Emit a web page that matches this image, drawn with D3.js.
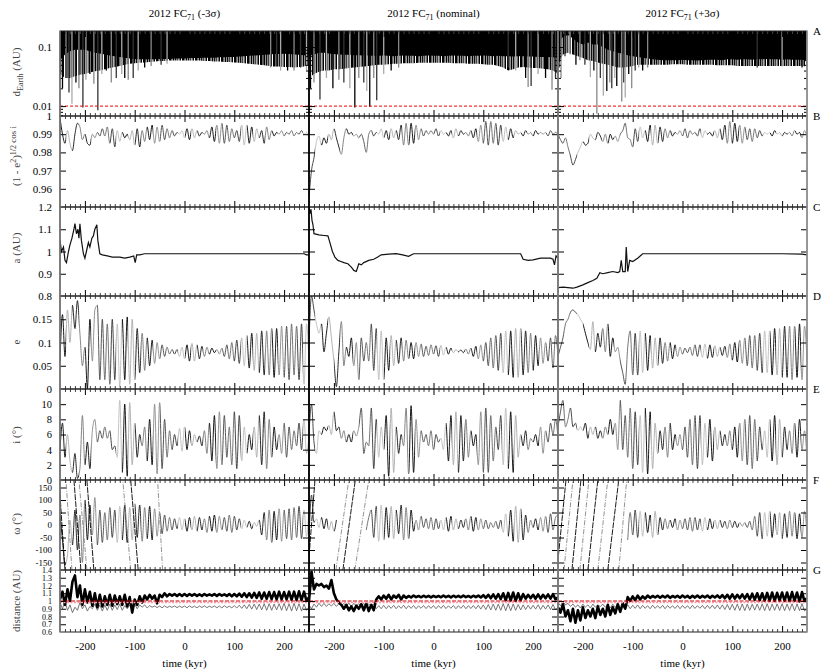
<!DOCTYPE html>
<html><head><meta charset="utf-8">
<script src="https://cdn.jsdelivr.net/npm/d3@7/dist/d3.min.js"></script>
<style>body{margin:0;background:#fff}svg{display:block}text{font-family:"Liberation Serif","DejaVu Serif",serif}</style>
</head><body><svg id="c" width="830" height="672"></svg>
<script>
// ================= DATA =================
const colTitles=['(-3σ)','(nominal)','(+3σ)'];
const rowLetters=['A','B','C','D','E','F','G'];
const xTickLabels=[-200,-100,0,100,200];
const yLabelsA=[0.1,0.01];
const yLabelsB=[1,0.99,0.98,0.97,0.96];
const yLabelsC=[1.2,1.1,1,0.9,0.8];
const yLabelsD=[0.15,0.1,0.05,0];
const yLabelsE=[10,8,6,4,2,0];
const yLabelsF=[150,100,50,0,-50,-100,-150];
const yLabelsG=[1.4,1.3,1.2,1.1,1,0.9,0.8,0.7,0.6];

// Row A : minimum distance to Earth (AU), every 10 kyr from -250 : dense-body edge, fringe edge, deep close-approach spikes
const dEarthBodyMinus=[0.06,0.075,0.085,0.09,0.09,0.09,0.085,0.08,0.078,0.075,0.072,0.07,0.068,0.066,0.064,0.063,0.062,0.062,0.062,0.062,0.063,0.063,0.063,0.064,0.064,0.064,0.065,0.065,0.065,0.066,0.066,0.066,0.067,0.067,0.068,0.068,0.069,0.07,0.071,0.072,0.073,0.074,0.075,0.076,0.076,0.077,0.076,0.075,0.074,0.073,0.07];
const dEarthFringeMinus=[0.035,0.03,0.03,0.032,0.034,0.035,0.037,0.039,0.04,0.042,0.044,0.046,0.048,0.05,0.052,0.053,0.054,0.055,0.056,0.057,0.058,0.058,0.059,0.059,0.059,0.059,0.059,0.059,0.059,0.058,0.058,0.057,0.057,0.056,0.056,0.055,0.054,0.053,0.052,0.051,0.05,0.049,0.048,0.047,0.047,0.046,0.046,0.045,0.046,0.047,0.05];
const dEarthSpikesMinus=[[-245,0.02],[-238,0.03],[-232,0.017],[-226,0.011],[-218,0.025],[-212,0.02],[-204,0.0095],[-198,0.028],[-190,0.035],[-182,0.024],[-174,0.0085],[-166,0.035],[-157,0.04],[-147,0.025],[-137,0.03],[-126,0.035],[-120,0.03],[-113,0.028],[-103,0.03],[-93,0.04],[-80,0.045],[-67,0.048],[-47,0.05],[-35,0.052],[160,0.05],[173,0.045],[185,0.047],[193,0.04],[207,0.04],[220,0.04],[233,0.045],[245,0.04]];
const dEarthBodyNominal=[0.07,0.075,0.08,0.08,0.078,0.076,0.075,0.074,0.074,0.073,0.073,0.072,0.072,0.071,0.071,0.072,0.071,0.07,0.071,0.072,0.071,0.071,0.07,0.071,0.072,0.071,0.071,0.07,0.071,0.072,0.071,0.071,0.07,0.071,0.071,0.072,0.071,0.07,0.071,0.07,0.07,0.069,0.07,0.07,0.069,0.069,0.068,0.068,0.068,0.067,0.065];
const dEarthFringeNominal=[0.03,0.035,0.038,0.04,0.04,0.042,0.042,0.043,0.044,0.045,0.046,0.047,0.048,0.049,0.05,0.05,0.051,0.052,0.052,0.053,0.053,0.053,0.054,0.054,0.054,0.054,0.054,0.054,0.054,0.053,0.053,0.053,0.052,0.052,0.052,0.051,0.05,0.05,0.048,0.045,0.04,0.042,0.045,0.046,0.045,0.044,0.044,0.043,0.042,0.04,0.035];
const dEarthSpikesNominal=[[-247,0.02],[-240,0.025],[-228,0.013],[-215,0.03],[-202,0.02],[-190,0.028],[-180,0.025],[-168,0.02],[-158,0.0095],[-150,0.03],[-140,0.025],[-134,0.018],[-128,0.0098],[-120,0.03],[-114,0.0126],[-100,0.035],[-85,0.04],[-70,0.045],[150,0.045],[165,0.04],[185,0.03],[190,0.021],[196,0.022],[210,0.035],[225,0.03],[238,0.019],[245,0.03]];
const dEarthBodyPlus=[0.11,0.15,0.16,0.14,0.12,0.11,0.12,0.11,0.11,0.1,0.09,0.085,0.08,0.077,0.073,0.07,0.068,0.066,0.064,0.062,0.061,0.06,0.06,0.06,0.06,0.061,0.06,0.06,0.059,0.06,0.061,0.061,0.061,0.06,0.062,0.062,0.061,0.062,0.062,0.061,0.062,0.062,0.063,0.062,0.062,0.061,0.062,0.061,0.061,0.061,0.06];
const dEarthFringePlus=[0.05,0.075,0.08,0.075,0.07,0.065,0.06,0.058,0.055,0.052,0.05,0.048,0.045,0.045,0.046,0.048,0.05,0.05,0.05,0.05,0.05,0.05,0.05,0.051,0.051,0.051,0.05,0.05,0.05,0.05,0.05,0.05,0.049,0.049,0.049,0.049,0.048,0.048,0.048,0.048,0.048,0.048,0.048,0.048,0.048,0.048,0.048,0.048,0.048,0.048,0.047];
const dEarthSpikesPlus=[[-248,0.045],[-244,0.03],[-236,0.07],[-226,0.075],[-214,0.05],[-206,0.06],[-196,0.05],[-185,0.031],[-178,0.04],[-172,0.0075],[-165,0.03],[-159,0.015],[-152,0.018],[-146,0.025],[-142,0.02],[-136,0.03],[-132,0.022],[-122,0.012],[-118,0.025],[-115,0.014],[-108,0.035],[-102,0.02],[-95,0.04],[-88,0.045],[-80,0.04],[-70,0.045],[150,0.045],[200,0.047],[240,0.045]];

// Row B : (1-e^2)^1/2 cos i, every 5 kyr from -250 to 250
const cosiMinus=[0.999,0.99,0.985,0.992,0.985,0.981,0.99,0.996,0.994,0.987,
0.99,0.985,0.984,0.99,0.988,0.991,0.989,0.993,0.989,0.994,
0.985,0.993,0.983,0.992,0.986,0.991,0.988,0.99,0.987,0.992,
0.984,0.993,0.983,0.992,0.986,0.994,0.987,0.995,0.985,0.994,
0.986,0.995,0.987,0.993,0.988,0.992,0.989,0.991,0.99,0.992,
0.988,0.993,0.987,0.993,0.988,0.992,0.989,0.991,0.99,0.992,
0.988,0.994,0.986,0.995,0.985,0.996,0.985,0.995,0.986,0.993,
0.988,0.992,0.986,0.995,0.984,0.995,0.985,0.994,0.986,0.993,
0.988,0.992,0.985,0.994,0.987,0.992,0.989,0.991,0.99,0.992,
0.989,0.991,0.99,0.992,0.989,0.991,0.99,0.992,0.99,0.991,0.987];
const cosiNominal=[0.955,0.97,0.977,0.986,0.989,0.984,0.988,0.985,0.99,0.987,
0.993,0.988,0.983,0.979,0.988,0.993,0.99,0.991,0.989,0.99,
0.988,0.99,0.986,0.98,0.99,0.992,0.989,0.991,0.99,0.993,
0.988,0.992,0.987,0.993,0.988,0.992,0.987,0.995,0.984,0.996,
0.984,0.996,0.985,0.995,0.987,0.993,0.989,0.992,0.99,0.992,
0.99,0.993,0.989,0.992,0.99,0.991,0.989,0.992,0.988,0.993,
0.989,0.992,0.99,0.991,0.989,0.992,0.988,0.993,0.986,0.995,
0.985,0.997,0.984,0.997,0.985,0.996,0.984,0.995,0.986,0.994,
0.987,0.993,0.988,0.992,0.99,0.991,0.989,0.992,0.99,0.991,
0.989,0.992,0.99,0.991,0.99,0.991,0.989,0.992,0.99,0.991,0.99];
const cosiPlus=[0.99,0.987,0.985,0.988,0.983,0.978,0.973,0.976,0.98,0.983,
0.986,0.984,0.985,0.99,0.988,0.987,0.991,0.989,0.986,0.99,
0.985,0.99,0.987,0.989,0.986,0.99,0.992,0.996,0.988,0.987,
0.983,0.993,0.986,0.994,0.988,0.992,0.986,0.995,0.984,0.995,
0.985,0.994,0.986,0.993,0.988,0.992,0.989,0.991,0.99,0.992,
0.989,0.993,0.988,0.992,0.99,0.991,0.989,0.993,0.988,0.992,
0.99,0.991,0.989,0.992,0.988,0.993,0.987,0.995,0.985,0.997,
0.985,0.996,0.986,0.995,0.985,0.994,0.987,0.993,0.986,0.993,
0.988,0.992,0.989,0.991,0.99,0.991,0.989,0.992,0.99,0.991,
0.989,0.991,0.99,0.991,0.989,0.992,0.99,0.991,0.988,0.992,0.988];

// Row C : semi-major axis (AU), [time kyr, a]
const smaMinus=[[-250,1.05],[-247,1.0],[-243,1.02],[-240,0.96],[-237,0.95],[-233,1.0],[-230,1.03],[-226,1.06],[-222,1.1],[-220,1.125],[-217,1.08],[-214,1.1],[-212,1.06],[-210,1.125],[-207,1.05],[-203,0.99],[-200,0.97],[-197,1.0],[-193,1.04],[-190,1.02],[-186,1.06],[-183,1.07],[-180,1.1],[-176,1.12],[-174,1.05],[-170,0.99],[-165,0.985],[-155,0.98],[-145,0.975],[-130,0.975],[-120,0.97],[-110,0.975],[-102,0.98],[-99,0.95],[-96,0.985],[-90,0.985],[-80,0.99],[0,0.99],[120,0.99],[240,0.99],[245,0.985],[250,0.985]];
const smaNominal=[[-250,1.2],[-248,1.17],[-246,1.19],[-244,1.14],[-242,1.12],[-240,1.08],[-230,1.075],[-220,1.072],[-212,1.07],[-208,1.04],[-203,1.0],[-198,0.975],[-192,0.96],[-186,0.955],[-180,0.95],[-172,0.945],[-165,0.93],[-160,0.915],[-155,0.91],[-150,0.945],[-145,0.94],[-140,0.95],[-130,0.96],[-120,0.965],[-112,0.975],[-105,0.985],[-90,0.988],[-75,0.99],[-62,0.985],[-50,0.978],[-40,0.99],[0,0.99],[100,0.99],[175,0.99],[180,0.965],[190,0.96],[200,0.962],[215,0.97],[235,0.97],[240,0.965],[243,0.94],[246,0.98],[250,0.97]];
const smaPlus=[[-250,0.838],[-240,0.84],[-230,0.838],[-220,0.835],[-212,0.84],[-200,0.85],[-190,0.86],[-180,0.87],[-172,0.88],[-166,0.905],[-160,0.9],[-150,0.905],[-140,0.91],[-130,0.905],[-126,0.91],[-123,0.96],[-120,0.91],[-115,0.91],[-113,1.02],[-110,0.91],[-106,0.96],[-100,0.955],[-90,0.97],[-80,0.99],[0,0.99],[100,0.99],[200,0.99],[240,0.988],[250,0.985]];

// Row D : eccentricity, every 5 kyr
const eccMinus=[0.06,0.16,0.07,0.17,0.10,0.18,0.13,0.19,0.12,0.05,
0.09,0.00,0.15,0.06,0.17,0.18,0.02,0.15,0.02,0.14,
0.01,0.15,0.02,0.14,0.005,0.15,0.02,0.155,0.01,0.15,
0.02,0.13,0.035,0.12,0.04,0.11,0.05,0.105,0.055,0.10,
0.065,0.095,0.07,0.09,0.075,0.085,0.075,0.085,0.07,0.09,
0.065,0.095,0.06,0.098,0.06,0.095,0.065,0.092,0.07,0.09,
0.075,0.088,0.078,0.085,0.075,0.088,0.07,0.095,0.065,0.1,
0.06,0.105,0.055,0.11,0.05,0.115,0.045,0.12,0.04,0.12,
0.035,0.125,0.03,0.125,0.03,0.13,0.025,0.13,0.03,0.135,
0.025,0.135,0.02,0.14,0.03,0.135,0.02,0.14,0.01,0.14,0.06];
const eccNominal=[0.10,0.20,0.17,0.14,0.12,0.14,0.08,0.12,0.155,0.11,
0.06,0.005,0.08,0.145,0.05,0.09,0.07,0.11,0.05,0.10,
0.02,0.11,0.06,0.10,0.06,0.14,0.04,0.13,0.02,0.125,
0.02,0.11,0.04,0.115,0.05,0.105,0.055,0.11,0.06,0.105,
0.065,0.10,0.065,0.10,0.07,0.097,0.07,0.092,0.072,0.095,
0.075,0.093,0.07,0.094,0.073,0.09,0.075,0.088,0.078,0.085,
0.08,0.084,0.078,0.086,0.075,0.088,0.07,0.092,0.065,0.095,
0.06,0.10,0.05,0.11,0.045,0.115,0.04,0.12,0.035,0.125,
0.03,0.125,0.025,0.13,0.025,0.13,0.03,0.125,0.035,0.12,
0.04,0.115,0.05,0.11,0.055,0.10,0.06,0.11,0.045,0.115,0.07];
const eccPlus=[0.07,0.09,0.11,0.14,0.15,0.165,0.17,0.165,0.16,0.15,
0.14,0.12,0.10,0.085,0.145,0.08,0.12,0.09,0.13,0.08,
0.14,0.07,0.11,0.08,0.09,0.06,0.035,0.01,0.09,0.125,
0.03,0.12,0.03,0.125,0.035,0.12,0.04,0.115,0.045,0.11,
0.05,0.11,0.055,0.10,0.06,0.10,0.065,0.095,0.07,0.09,
0.075,0.088,0.078,0.09,0.072,0.095,0.07,0.095,0.068,0.097,
0.066,0.095,0.068,0.093,0.07,0.09,0.072,0.092,0.068,0.097,
0.062,0.10,0.058,0.105,0.055,0.11,0.05,0.115,0.045,0.115,
0.04,0.12,0.035,0.125,0.035,0.125,0.03,0.13,0.03,0.13,
0.025,0.135,0.025,0.135,0.02,0.135,0.025,0.14,0.02,0.135,0.06];

// Row E : inclination (deg), every 5 kyr
const incMinus=[4,7.5,3,6,2.5,1,3.5,0.2,1.5,8.5,
2,5,1.5,6.5,8,5,6.5,5.5,7,5.5,
6.5,4,4.5,3,10.5,1,10,0.5,10.2,2,
7.5,3,6,4.5,7,2.5,8,2,10,0.8,
10.2,1.5,8,3,6.5,4,6,4.5,6.8,3.8,
7,4,6.5,4.5,6,5,5.8,4.5,6.5,3.5,
7.5,2.5,8.5,1.5,9,2,8.5,3,7,2,
9,1.5,8.5,2.5,7,3.5,6,4,7,3,
8.5,2,9,1.5,8,3,7,4,6,3.5,
7.5,3,7,4,6.5,4.5,7.5,4,8,3.5,6];
const incNominal=[6,10,5,3.5,6.5,6,7,6.5,7.2,6,
9,6.5,7,5.5,6.5,5,6,5,6.5,5.8,
7,9.5,3.5,5,4.5,9.5,1.5,8,3,7,
4,8.5,0.5,9.5,1,7,3.5,6,4.5,9.5,
0.8,9.8,1,8,3,6.5,5,6,4.5,6.5,
4,6,5,5.5,4,7.5,2.5,8.5,2,9,
1,8.5,2.5,8,3,6.5,4.5,6,2,9,
1,9.5,1,8.5,2.5,7,4,8.5,2,9.5,
1.5,9,1,8.5,3,6,4.5,6.5,4,5.5,
5,6,4.5,7,3.5,6.5,5,7.5,6,8,5.5];
const incPlus=[7,9,10.5,7,8,9.5,7,7.5,6.5,7,
6.5,7.5,5.5,7,6,7,5.5,6.5,5.5,7,
6,8,6,7.5,4,10.5,4,8.5,3,9.5,
1.5,9,2,8.5,1,9.5,0.8,9,1.5,7.5,
3.5,6.5,4,7,3,7.5,4,6,4.5,6,
4,7,3,8,2,8.5,1.5,8.5,2,7.5,
3,8,2.5,7,4,6.5,4.5,6,4.5,6.5,
4,7,3,7.5,2.5,8,2,8.5,1.5,8,
2.5,7,4,6.5,3,8,2.5,8.5,2,8,
3,7,4,6.5,3.5,7.5,3,8,4,6.5,2.5];

// Row F : argument of perihelion (deg), every 5 kyr (null = circulating)
const argMinus=[40,-60,-160,-120,20,-80,60,-100,40,-150,
100,-60,80,-40,110,-80,60,-70,50,-60,
70,-50,60,-70,75,-60,80,-70,70,-60,
85,-50,80,-65,70,-55,75,-60,65,-45,
50,-35,40,-25,30,-20,25,-15,30,-20,
25,-25,30,-20,35,-25,30,-20,25,-30,
35,-25,40,-30,35,-20,30,-25,40,-30,
35,-20,25,-15,20,-10,15,-15,10,-5,
20,-40,50,-60,60,-70,55,-60,65,-65,
60,-55,65,-60,70,-50,75,-55,60,-45,70];
const argNominal=[-60,120,10,25,-10,30,-15,25,-20,15,
-25,20,null,null,null,null,null,null,null,null,
null,null,null,-20,30,60,-50,75,-65,80,
-60,70,-50,75,-55,60,-35,80,-60,70,
-55,60,-25,20,-20,35,-10,25,-15,30,
-20,25,-15,20,-20,30,-25,35,-20,25,
-15,20,-10,25,-20,35,-25,30,-20,25,
-15,20,-15,10,-10,15,-15,20,-30,45,
-45,60,-65,75,-70,65,-60,40,-30,20,
-10,25,-20,30,-25,35,-30,45,-20,30,40];
const argPlus=[null,null,null,null,null,null,null,null,null,null,
null,null,null,null,null,null,null,null,null,null,
null,null,null,null,null,null,null,null,-60,50,
-40,60,-50,55,-45,50,-30,40,-50,55,
-40,30,-20,25,-15,20,-10,25,-20,20,
-15,25,-20,30,-25,30,-20,25,-25,30,
-20,25,-15,20,-15,20,-10,15,-15,20,
-10,15,-10,10,-5,10,-10,15,-20,35,
-45,50,-55,50,-45,55,-50,45,-40,50,
-55,45,-50,55,-45,50,-55,45,-50,55,-40];
// circulation sweeps: [time at -180 deg, time at +180 deg]
const argWrapMinus=[[-240,-252],[-226,-238],[-208,-222],[-196,-212],[-182,-196],[-108,-124],[-93,-108],[-44,-54]];
const argWrapNominal=[[-252,-238],[-196,-170],[-182,-157],[-158,-130]];
const argWrapPlus=[[-252,-234],[-238,-220],[-222,-204],[-206,-188],[-190,-170],[-170,-150],[-150,-128],[-128,-112]];

// Row G : nodal distances (AU), every 5 kyr ; Earth orbit at 1 AU
const earthOrbit=1.0;
const nodeFarMinus=[1.02,1.12,0.95,1.15,1.0,1.25,1.33,1.05,1.2,0.95,
1.15,0.98,1.12,0.94,1.1,0.92,1.08,0.93,1.06,0.95,
1.08,0.94,1.07,0.96,1.06,0.95,1.08,0.93,1.05,0.85,
1.02,0.95,1.06,0.98,1.07,1.02,1.08,1.03,1.07,0.97,
1.08,1.05,1.1,1.06,1.09,1.07,1.09,1.065,1.09,1.065,
1.09,1.065,1.09,1.07,1.09,1.065,1.085,1.065,1.09,1.07,
1.085,1.07,1.09,1.065,1.09,1.07,1.085,1.065,1.09,1.06,
1.09,1.06,1.095,1.055,1.1,1.05,1.1,1.045,1.105,1.04,
1.11,1.03,1.11,1.03,1.115,1.025,1.115,1.02,1.12,1.02,
1.115,1.02,1.12,1.015,1.12,1.01,1.125,1.01,1.12,1.0,1.05];
const nodeNearMinus=[0.98,0.9,1.0,0.88,0.95,0.85,0.92,0.88,0.98,0.9,
0.95,0.87,0.93,0.9,0.96,0.88,0.95,0.87,0.95,0.88,
0.96,0.88,0.95,0.89,0.96,0.88,0.94,0.9,0.95,0.88,
0.96,0.9,0.95,0.92,0.95,0.91,0.94,0.92,0.935,0.915,
0.935,0.912,0.938,0.915,0.932,0.918,0.936,0.914,0.934,0.916,
0.935,0.913,0.937,0.916,0.933,0.912,0.936,0.915,0.938,0.914,
0.934,0.917,0.936,0.913,0.935,0.911,0.939,0.915,0.933,0.912,
0.94,0.91,0.945,0.905,0.95,0.9,0.955,0.895,0.96,0.89,
0.96,0.885,0.965,0.88,0.965,0.88,0.96,0.885,0.965,0.88,
0.97,0.875,0.965,0.87,0.97,0.875,0.965,0.87,0.96,0.88,0.92];
const nodeFarNominal=[1.0,1.38,1.15,1.22,1.2,1.22,1.18,1.2,1.16,1.27,
1.1,1.02,0.98,0.95,0.9,0.95,0.88,0.93,0.87,0.94,
0.9,0.96,0.88,0.97,0.87,0.95,0.88,1.02,1.06,1.02,
1.07,1.03,1.08,1.02,1.07,1.04,1.08,1.02,1.07,1.04,
1.065,1.045,1.07,1.05,1.065,1.048,1.068,1.05,1.066,1.047,
1.067,1.05,1.065,1.048,1.07,1.05,1.066,1.046,1.068,1.05,
1.066,1.048,1.07,1.05,1.065,1.047,1.068,1.05,1.07,1.045,
1.075,1.04,1.08,1.035,1.085,1.03,1.09,1.025,1.1,1.01,
1.105,1.005,1.11,1.0,1.1,1.01,1.09,1.03,1.08,1.035,
1.08,1.03,1.085,1.03,1.08,1.035,1.085,1.03,1.09,1.02,1.05];
const nodeNearNominal=[0.95,0.9,0.96,0.92,0.97,0.93,0.97,0.93,0.965,0.935,
0.97,0.93,0.965,0.935,0.97,0.93,0.975,0.93,0.97,0.935,
0.965,0.93,0.97,0.935,0.96,0.93,0.965,0.9,0.94,0.9,
0.945,0.9,0.94,0.905,0.945,0.9,0.94,0.905,0.945,0.9,
0.94,0.905,0.943,0.9,0.938,0.906,0.942,0.902,0.94,0.905,
0.942,0.9,0.94,0.905,0.944,0.902,0.938,0.906,0.942,0.9,
0.94,0.905,0.945,0.9,0.94,0.903,0.942,0.9,0.945,0.895,
0.95,0.89,0.955,0.885,0.96,0.88,0.96,0.88,0.965,0.875,
0.965,0.875,0.96,0.88,0.955,0.885,0.95,0.89,0.945,0.895,
0.945,0.895,0.95,0.89,0.945,0.895,0.95,0.89,0.955,0.885,0.92];
const nodeFarPlus=[0.92,0.85,0.96,0.8,0.88,0.74,0.9,0.72,0.88,0.75,
0.92,0.78,0.88,0.8,0.9,0.78,0.93,0.82,0.9,0.8,
0.95,0.82,0.92,0.84,0.96,0.86,0.97,0.9,1.05,1.0,
1.06,1.01,1.07,1.02,1.06,1.03,1.07,1.04,1.065,1.045,
1.068,1.042,1.066,1.045,1.07,1.04,1.065,1.046,1.068,1.043,
1.07,1.045,1.066,1.04,1.068,1.044,1.07,1.042,1.066,1.046,
1.07,1.04,1.068,1.045,1.072,1.04,1.075,1.035,1.08,1.03,
1.085,1.03,1.08,1.035,1.085,1.03,1.09,1.02,1.095,1.015,
1.1,1.01,1.1,1.005,1.105,1.0,1.11,1.0,1.105,1.005,
1.11,1.0,1.11,0.995,1.115,1.0,1.11,0.99,1.115,0.995,1.04];
const nodeNearPlus=[0.98,0.94,0.99,0.95,0.97,0.93,0.96,0.92,0.95,0.91,
0.96,0.92,0.95,0.91,0.96,0.92,0.95,0.93,0.96,0.92,
0.95,0.91,0.96,0.92,0.95,0.9,0.94,0.9,0.95,0.9,
0.945,0.905,0.95,0.9,0.945,0.905,0.94,0.9,0.945,0.905,
0.94,0.905,0.945,0.9,0.942,0.906,0.94,0.903,0.944,0.9,
0.942,0.905,0.94,0.9,0.945,0.904,0.94,0.906,0.943,0.9,
0.944,0.902,0.946,0.9,0.948,0.896,0.95,0.89,0.955,0.885,
0.958,0.88,0.96,0.878,0.962,0.876,0.96,0.88,0.958,0.882,
0.96,0.88,0.962,0.876,0.965,0.875,0.96,0.88,0.962,0.878,
0.965,0.875,0.96,0.878,0.965,0.874,0.962,0.876,0.966,0.872,0.9];

// ================= RENDER =================
const svg=d3.select('#c');
const defs=svg.append('defs');
const colX=[[60,309],[309,558],[558,807]];
const rowKeys=['A','B','C','D','E','F','G'];
const rowY={A:[31,116],B:[116,207],C:[207,296],D:[296,389],E:[389,480],F:[480,570],G:[570,632]};
const yDomains={A:[0.0068,0.187],B:[0.95,1],C:[0.8,1.2],D:[0,0.2],E:[0,12],F:[-180,180],G:[0.6,1.4]};
const yTicks={A:[0.01,0.1],B:[0.96,0.97,0.98,0.99],C:[0.9,1,1.1],D:[0.05,0.1,0.15],E:[2,4,6,8,10],F:[-150,-100,-50,0,50,100,150],G:[0.7,0.8,0.9,1,1.1,1.2,1.3]};
const yLabels={A:yLabelsA,B:yLabelsB,C:yLabelsC,D:yLabelsD,E:yLabelsE,F:yLabelsF,G:yLabelsG};
const labelSize={A:11,B:11,C:11,D:11,E:10.5,F:9,G:8};
const yScale=r=>(r==='A'?d3.scaleLog():d3.scaleLinear()).domain(yDomains[r]).range([rowY[r][1],rowY[r][0]]);
const t5=d3.range(101).map(i=>-250+5*i);
const t10=d3.range(51).map(i=>-250+10*i);

const bandColors=['#000','#666','#000','#aaa','#333','#888','#111','#bbb','#444','#777'];
colX.forEach((c,ci)=>{
  const gr=defs.append('linearGradient').attr('id','band'+ci).attr('gradientUnits','userSpaceOnUse')
    .attr('x1',c[0]).attr('x2',c[1]).attr('y1',0).attr('y2',0);
  const n=40;
  for(let k=0;k<n;k++){const col=bandColors[(k*3+ci*4)%bandColors.length];
    gr.append('stop').attr('offset',k/n).attr('stop-color',col);
    gr.append('stop').attr('offset',(k+1)/n).attr('stop-color',col);}
  rowKeys.forEach(r=>{defs.append('clipPath').attr('id',`clip${ci}${r}`).append('rect')
    .attr('x',c[0]).attr('y',rowY[r][0]).attr('width',c[1]-c[0]).attr('height',rowY[r][1]-rowY[r][0]);});
});
const pat=defs.append('pattern').attr('id','stripes').attr('patternUnits','userSpaceOnUse').attr('width',13).attr('height',10);
[[0,13,'#fff'],[0,2,'#000'],[2,1,'#666'],[3.6,1.4,'#000'],[5,1,'#999'],[6,1.5,'#111'],[8,1.5,'#444'],[9.5,1,'#bbb'],[10.5,1.5,'#000']]
  .forEach(s=>pat.append('rect').attr('x',s[0]).attr('width',s[1]).attr('height',10).attr('fill',s[2]));

const columns=[
 {body:dEarthBodyMinus,fringe:dEarthFringeMinus,spikes:dEarthSpikesMinus,cosi:cosiMinus,sma:smaMinus,ecc:eccMinus,inc:incMinus,arg:argMinus,wrap:argWrapMinus,far:nodeFarMinus,near:nodeNearMinus},
 {body:dEarthBodyNominal,fringe:dEarthFringeNominal,spikes:dEarthSpikesNominal,cosi:cosiNominal,sma:smaNominal,ecc:eccNominal,inc:incNominal,arg:argNominal,wrap:argWrapNominal,far:nodeFarNominal,near:nodeNearNominal},
 {body:dEarthBodyPlus,fringe:dEarthFringePlus,spikes:dEarthSpikesPlus,cosi:cosiPlus,sma:smaPlus,ecc:eccPlus,inc:incPlus,arg:argPlus,wrap:argWrapPlus,far:nodeFarPlus,near:nodeNearPlus}
];
const spikeColors=['#000','#888','#333','#aaa'];

columns.forEach((S,ci)=>{
  const [x0,x1]=colX[ci];
  const x=d3.scaleLinear().domain([-250,250]).range([x0,x1]);
  const band=`url(#band${ci})`;
  const layer=r=>svg.append('g').attr('clip-path',`url(#clip${ci}${r})`);
  // --- A
  {const y=yScale('A'),g=layer('A'),top=rowY.A[0]-2;
   const area=d3.area().x(d=>x(d[0])).y0(top).y1(d=>y(d[1]));
   g.append('path').attr('d',area(t10.map((t,i)=>[t,S.fringe[i]]))).attr('fill','url(#stripes)');
   g.append('path').attr('d',area(t10.map((t,i)=>[t,S.body[i]]))).attr('fill','#000');
   g.selectAll('line.sp').data(S.spikes).join('line').attr('x1',d=>x(d[0])).attr('x2',d=>x(d[0]))
     .attr('y1',top).attr('y2',d=>y(d[1])).attr('stroke',(d,i)=>spikeColors[i%4]).attr('stroke-width',1.3);
   g.append('line').attr('x1',x0).attr('x2',x1).attr('y1',y(0.01)).attr('y2',y(0.01))
     .attr('stroke','#e00').attr('stroke-width',1).attr('stroke-dasharray','3,2');}
  const osc=(r,vals,w)=>{const y=yScale(r);
    const line=d3.line().defined(d=>d[1]!=null).x(d=>x(d[0])).y(d=>y(d[1])).curve(d3.curveMonotoneX);
    layer(r).append('path').attr('d',line(t5.map((t,i)=>[t,vals[i]]))).attr('fill','none')
      .attr('stroke',band).attr('stroke-width',w||0.9).attr('stroke-linejoin','round');};
  osc('B',S.cosi);
  {const y=yScale('C');
   layer('C').append('path').attr('d',d3.line().x(d=>x(d[0])).y(d=>y(d[1]))(S.sma)).attr('fill','none')
     .attr('stroke','#111').attr('stroke-width',1.2);}
  osc('D',S.ecc);
  osc('E',S.inc);
  osc('F',S.arg);
  {const y=yScale('F'),g=layer('F');
   g.selectAll('line.w').data(S.wrap).join('line').attr('x1',d=>x(d[0])).attr('y1',y(-180))
     .attr('x2',d=>x(d[1])).attr('y2',y(180)).attr('stroke',(d,i)=>i%2?'#888':'#000')
     .attr('stroke-width',0.9).attr('stroke-dasharray',(d,i)=>i%2?'5,1.5,1,1.5':'6,1');}
  {const y=yScale('G'),g=layer('G');
   const line=d3.line().x(d=>x(d[0])).y(d=>y(d[1]));
   g.append('path').attr('d',line(t5.map((t,i)=>[t,S.near[i]]))).attr('fill','none').attr('stroke','#666').attr('stroke-width',0.9);
   g.append('path').attr('d',line(t5.map((t,i)=>[t,S.far[i]]))).attr('fill','none').attr('stroke','#000').attr('stroke-width',2.6).attr('stroke-linejoin','round');
   g.append('line').attr('x1',x0).attr('x2',x1).attr('y1',y(earthOrbit)+1.5).attr('y2',y(earthOrbit)+1.5).attr('stroke','#f9a').attr('stroke-width',1.5).attr('stroke-dasharray','2,1.5');
   g.append('line').attr('x1',x0).attr('x2',x1).attr('y1',y(earthOrbit)).attr('y2',y(earthOrbit)).attr('stroke','#c00').attr('stroke-width',1).attr('stroke-dasharray','4,1.5');}

  // --- ticks & frames
  rowKeys.forEach(r=>{
    const [ya,yb]=rowY[r]; const y=yScale(r);
    const minor=d3.range(-240,250,10).filter(v=>v%100!==0);
    const clean=g=>g.select('.domain').remove();
    const tk=(gen,tx,ty,vals,size,col)=>svg.append('g').attr('transform',`translate(${tx},${ty})`)
      .call(gen.tickValues(vals).tickSize(size).tickFormat(''))
      .call(clean).call(g=>g.selectAll('line').attr('stroke',col));
    tk(d3.axisBottom(x),0,ya,minor,3,'#444'); tk(d3.axisBottom(x),0,ya,xTickLabels,6,'#000');
    tk(d3.axisTop(x),0,yb,minor,3,'#444'); tk(d3.axisTop(x),0,yb,xTickLabels,6,'#000');
    tk(d3.axisRight(y),x0,0,yTicks[r],6,'#000'); tk(d3.axisLeft(y),x1,0,yTicks[r],6,'#000');
    if(r==='A'){const mn=[0.007,0.008,0.009,0.02,0.03,0.04,0.05,0.06,0.07,0.08,0.09];
      tk(d3.axisRight(y),x0,0,mn,3,'#000'); tk(d3.axisLeft(y),x1,0,mn,3,'#000');}
    svg.append('rect').attr('x',x0).attr('y',ya).attr('width',x1-x0).attr('height',yb-ya)
      .attr('fill','none').attr('stroke','#222').attr('stroke-width',1);
  });
  // bottom labels
  svg.append('g').attr('transform',`translate(0,${rowY.G[1]})`)
    .call(d3.axisBottom(x).tickValues(xTickLabels).tickSize(0).tickPadding(10).tickFormat(d=>String(d)))
    .call(g=>g.select('.domain').remove())
    .call(g=>g.selectAll('text').attr('font-family','"Liberation Serif",serif').attr('font-size',11).attr('fill','#000'));
  svg.append('text').attr('x',x(0)).attr('y',667).attr('text-anchor','middle').attr('font-size',11).text('time (kyr)');
  // title
  const tt=svg.append('text').attr('x',x(0)).attr('y',17).attr('text-anchor','middle').attr('font-size',11);
  tt.append('tspan').text('2012 FC');
  tt.append('tspan').attr('dy',3).attr('font-size',8).text('71');
  tt.append('tspan').attr('dy',-3).text(' '+colTitles[ci]);
});

// column separators / outer edges
[[60,'#777',1.5],[309,'#000',1.6],[558,'#888',1.6],[807,'#999',1.6]].forEach(s=>
  svg.append('line').attr('x1',s[0]).attr('x2',s[0]).attr('y1',31).attr('y2',632).attr('stroke',s[1]).attr('stroke-width',s[2]));

// left tick labels
rowKeys.forEach(r=>{
  const y=yScale(r);
  svg.append('g').attr('transform',`translate(60,0)`)
    .call(d3.axisLeft(y).tickValues(yLabels[r]).tickSize(0).tickPadding(8).tickFormat(d=>String(d)))
    .call(g=>g.select('.domain').remove())
    .call(g=>g.selectAll('text').attr('font-family','"Liberation Serif",serif').attr('font-size',labelSize[r]).attr('fill','#000'));
});
// row letters
rowKeys.forEach((r,i)=>svg.append('text').attr('x',813).attr('y',rowY[r][0]+4).attr('font-size',11).text(rowLetters[i]));

// y-axis titles (rotated)
function ytitle(cy,parts){
  const t=svg.append('text').attr('transform',`translate(20,${cy}) rotate(-90)`).attr('text-anchor','middle')
    .attr('font-size',11).attr('fill','#444');
  parts.forEach(p=>{const s=t.append('tspan').text(p[0]); if(p[1])s.attr('dy',p[1]); if(p[2])s.attr('font-size',p[2]);});
}
ytitle(72,[['d'],['Earth',3,8],[' (AU)',-3]]);
ytitle(156,[['(1 - e'],['2',-4,8],[')',4],['1/2',-4,8],[' cos i',0,9]]);
ytitle(248,[['a (AU)']]);
ytitle(342,[['e']]);
ytitle(435,[['i (°)']]);
ytitle(524,[['ω (°)']]);
ytitle(601,[['distance (AU)']]);
</script></body></html>
